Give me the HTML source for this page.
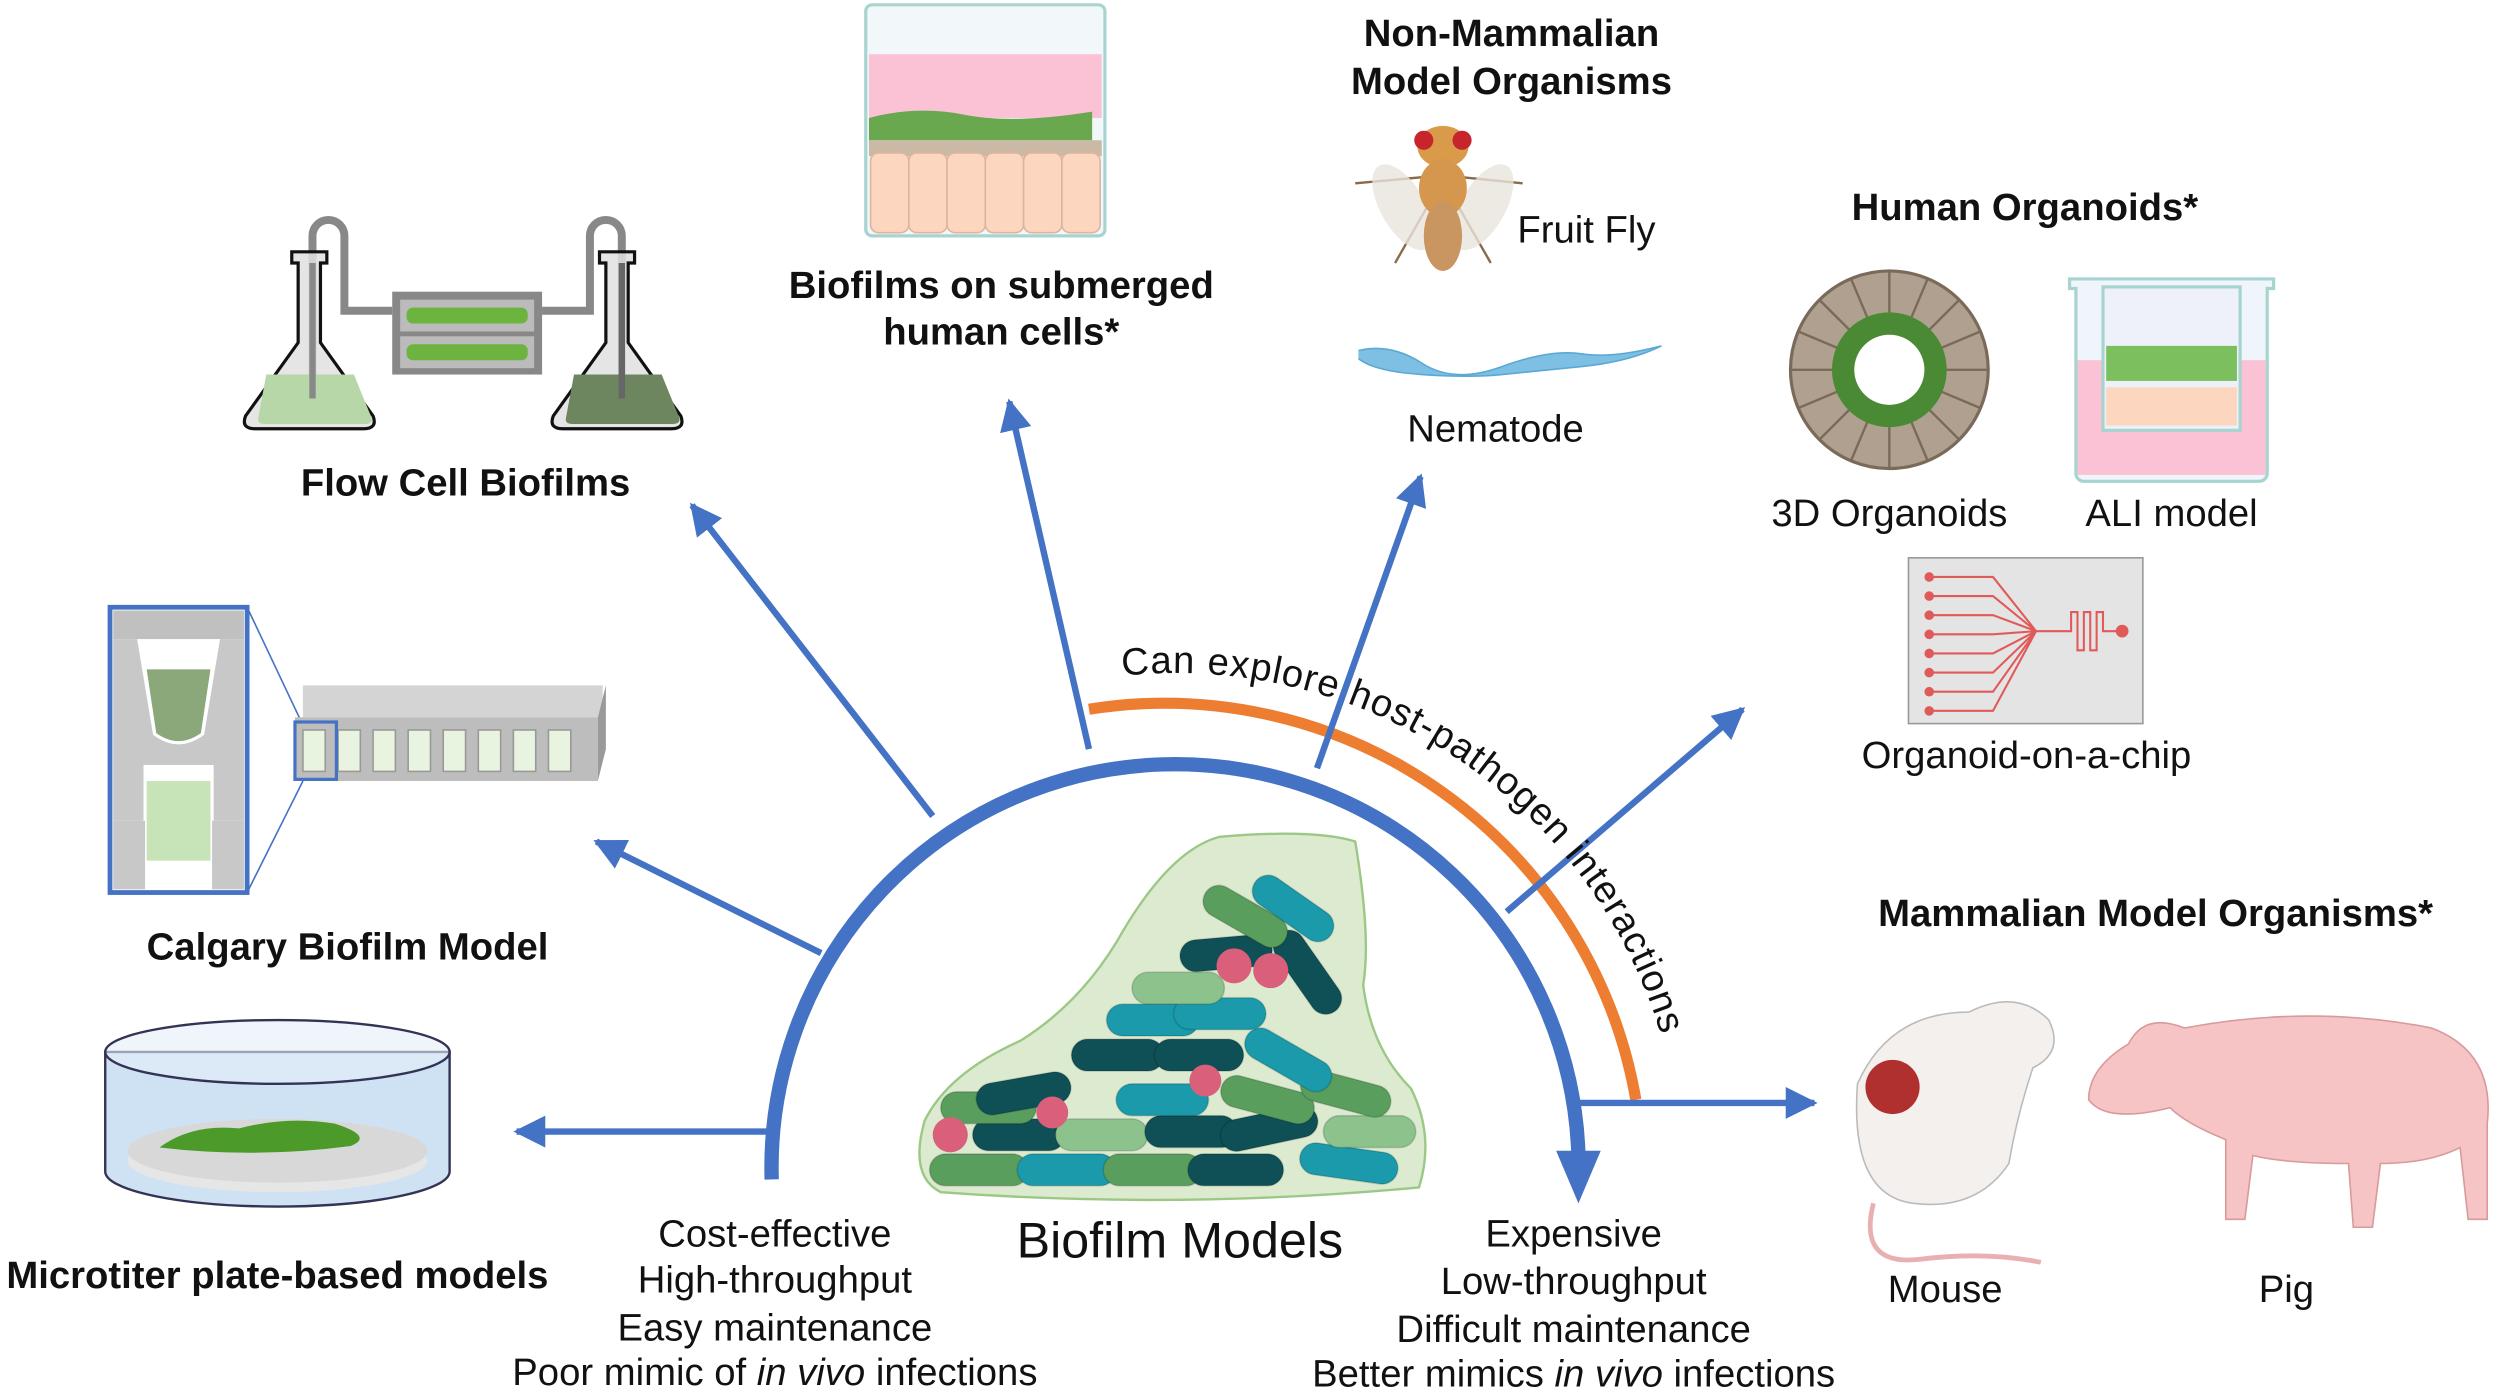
<!DOCTYPE html>
<html><head><meta charset="utf-8"><style>
html,body{margin:0;padding:0;background:#fff;overflow:hidden}
svg{display:block}
text{font-family:"Liberation Sans",Arial,sans-serif;fill:#111}
.b{font-weight:bold;font-size:24px}
.r{font-size:24px}
</style></head><body>
<svg width="2500" height="1393" viewBox="0 0 1568 874" preserveAspectRatio="none" xmlns="http://www.w3.org/2000/svg">
<defs>
<marker id="ah" viewBox="0 0 10 10" refX="9" refY="5" markerWidth="5" markerHeight="5" orient="auto"><path d="M0,0 L10,5 L0,10 Z" fill="#4472C4"/></marker>
<path id="tp" d="M 704 424 A 318 318 0 0 1 1055 740" fill="none"/>
</defs>

<!-- orange arc -->
<path d="M 683 445 A 300 300 0 0 1 1026 690" fill="none" stroke="#ED7D31" stroke-width="7"/>
<!-- connectors -->
<g stroke="#4472C4" stroke-width="4" fill="none" marker-end="url(#ah)">
<line x1="484" y1="710" x2="324" y2="710"/>
<line x1="515" y1="598" x2="374" y2="528"/>
<line x1="585" y1="512" x2="434" y2="317"/>
<line x1="683" y1="470" x2="633" y2="252"/>
<line x1="826" y1="482" x2="891" y2="299"/>
<line x1="945" y1="572" x2="1093" y2="445"/>
<line x1="990" y1="692" x2="1138" y2="692"/>
</g>
<!-- main arc -->
<path d="M 484 740 A 253 253 0 0 1 990 725" fill="none" stroke="#4472C4" stroke-width="9"/>
<path d="M 976 722 L 1004 722 L 990 755 Z" fill="#4472C4"/>
<text font-size="24" textLength="440" lengthAdjust="spacing"><textPath href="#tp" textLength="440">Can explore host-pathogen interactions</textPath></text>

<!-- Flow cell -->
<path d="M196 250 V148 a10 10 0 0 1 20 0 V195 h30 M390 250 V148 a10 10 0 0 0 -20 0 V195 h-30" fill="none" stroke="#888" stroke-width="5"/>
<g stroke="#111" stroke-width="2">
<path d="M183 158 h22 v7 h-4 v50 l33 46 q3 8 -6 8 h-68 q-9 0 -6 -8 l33 -46 v-50 h-4 z" fill="#e0e0e0" fill-opacity=".85"/>
<path d="M376 158 h22 v7 h-4 v50 l33 46 q3 8 -6 8 h-68 q-9 0 -6 -8 l33 -46 v-50 h-4 z" fill="#e0e0e0" fill-opacity=".85"/>
</g>
<path d="M167 235 h55 l11 27 q1 4 -4 4 h-63 q-5 0 -4 -4 z" fill="#b8d7a8"/>
<path d="M360 235 h55 l11 27 q1 4 -4 4 h-63 q-5 0 -4 -4 z" fill="#6e8660"/>
<line x1="196" y1="165" x2="196" y2="250" stroke="#888" stroke-width="4"/>
<line x1="390" y1="165" x2="390" y2="250" stroke="#666" stroke-width="4"/>
<rect x="246" y="183" width="94" height="52" fill="#888"/>
<rect x="251" y="188" width="84" height="20" fill="#bbb"/><rect x="251" y="211" width="84" height="20" fill="#bbb"/>
<rect x="255" y="193" width="76" height="10" rx="4" fill="#6db33f"/><rect x="255" y="216" width="76" height="10" rx="4" fill="#6db33f"/>
<text class="b" x="292" y="311" text-anchor="middle">Flow Cell Biofilms</text>

<!-- Submerged -->
<rect x="543" y="3" width="150" height="145" rx="4" fill="#f2f7fa" stroke="#a8d4d0" stroke-width="2"/>
<rect x="545" y="34" width="146" height="40" fill="#fbc2d6"/>
<path d="M545 74 q30 -8 60 -2 t80 -2 v18 h-140 z" fill="#6aa84f"/>
<rect x="545" y="88" width="146" height="10" fill="#c9b9a5"/>
<g fill="#fcd6bf" stroke="#e0b39d"><rect x="546" y="96" width="24" height="50" rx="5"/><rect x="570" y="96" width="24" height="50" rx="5"/><rect x="594" y="96" width="24" height="50" rx="5"/><rect x="618" y="96" width="24" height="50" rx="5"/><rect x="642" y="96" width="24" height="50" rx="5"/><rect x="666" y="96" width="24" height="50" rx="5"/></g>
<text class="b" x="628" y="187" text-anchor="middle">Biofilms on submerged</text>
<text class="b" x="628" y="216" text-anchor="middle">human cells*</text>

<!-- Non-mammalian -->
<text class="b" x="948" y="29" text-anchor="middle">Non-Mammalian</text>
<text class="b" x="948" y="59" text-anchor="middle">Model Organisms</text>
<g>
<path d="M905 110 l-55 5 M905 110 l50 5 M895 130 l-20 35 M915 130 l20 35" stroke="#8a6a4a" stroke-width="1.5"/>
<ellipse cx="880" cy="130" rx="30" ry="14" fill="#e8e4dc" opacity=".8" transform="rotate(60 880 130)"/>
<ellipse cx="930" cy="130" rx="30" ry="14" fill="#e8e4dc" opacity=".8" transform="rotate(-60 930 130)"/>
<ellipse cx="905" cy="92" rx="16" ry="13" fill="#d99a4a"/>
<circle cx="893" cy="88" r="6" fill="#c8242c"/><circle cx="917" cy="88" r="6" fill="#c8242c"/>
<ellipse cx="905" cy="118" rx="15" ry="18" fill="#d5964e"/>
<ellipse cx="905" cy="148" rx="12" ry="22" fill="#c99560"/>
</g>
<text class="r" x="995" y="152" text-anchor="middle">Fruit Fly</text>
<path d="M852 220 q20 -5 40 8 t50 2 t50 -8 t50 -5 q-20 10 -50 13 t-50 5 t-50 0 t-40 -10" fill="#7ec0e4" stroke="#5aa8d4"/>
<text class="r" x="938" y="277" text-anchor="middle">Nematode</text>

<!-- Human organoids -->
<text class="b" x="1270" y="138" text-anchor="middle">Human Organoids*</text>
<circle cx="1185" cy="232" r="62" fill="#b0a090" stroke="#7a6a5a" stroke-width="2"/>
<g stroke="#7a6a5a" stroke-width="1.5"><line x1="1185" y1="170" x2="1185" y2="294"/><line x1="1123" y1="232" x2="1247" y2="232"/><line x1="1141" y1="188" x2="1229" y2="276"/><line x1="1229" y1="188" x2="1141" y2="276"/><line x1="1161" y1="175" x2="1209" y2="289"/><line x1="1209" y1="175" x2="1161" y2="289"/><line x1="1128" y1="208" x2="1242" y2="256"/><line x1="1242" y1="208" x2="1128" y2="256"/></g>
<circle cx="1185" cy="232" r="36" fill="#4a8a34"/>
<circle cx="1185" cy="232" r="22" fill="#fff"/>
<path d="M1298 175 h128 v6 h-4 v116 a5 5 0 0 1 -5 5 h-110 a5 5 0 0 1 -5 -5 v-116 h-4 z" fill="#f0f4fb" stroke="#a8d4d0" stroke-width="2"/>
<rect x="1303" y="226" width="118" height="72" fill="#fbc2d6"/>
<rect x="1319" y="180" width="86" height="90" fill="#eef1fa" stroke="#a8d4d0" stroke-width="2"/>
<rect x="1321" y="217" width="82" height="22" fill="#7cbf5e"/>
<rect x="1321" y="243" width="82" height="24" fill="#fcd6bf"/>
<text class="r" x="1185" y="330" text-anchor="middle">3D Organoids</text>
<text class="r" x="1362" y="330" text-anchor="middle">ALI model</text>
<rect x="1197" y="350" width="147" height="104" fill="#e4e4e4" stroke="#999"/>
<g stroke="#e05a5a" stroke-width="1.3" fill="none">
<path d="M1210 362 h40 l27 34 M1210 374 h40 l27 22 M1210 386 h40 l27 10 M1210 398 h40 l27 -2 M1210 410 h40 l27 -14 M1210 422 h40 l27 -26 M1210 434 h40 l27 -38 M1210 446 h40 l27 -50 M1277 396 h22 v-12 h4 v24 h4 v-24 h4 v24 h4 v-24 h4 v12 h12"/>
</g>
<g fill="#e05a5a"><circle cx="1210" cy="362" r="3"/><circle cx="1210" cy="374" r="3"/><circle cx="1210" cy="386" r="3"/><circle cx="1210" cy="398" r="3"/><circle cx="1210" cy="410" r="3"/><circle cx="1210" cy="422" r="3"/><circle cx="1210" cy="434" r="3"/><circle cx="1210" cy="446" r="3"/><circle cx="1331" cy="396" r="4"/></g>
<text class="r" x="1271" y="482" text-anchor="middle">Organoid-on-a-chip</text>

<!-- Mammalian -->
<text class="b" x="1352" y="581" text-anchor="middle">Mammalian Model Organisms*</text>
<path d="M1165 680 q20 -45 70 -45 q30 -15 50 5 q10 20 -10 30 q-10 30 -15 60 q-20 30 -60 25 q-40 -5 -35 -75 z" fill="#f4f0ee" stroke="#bbb"/>
<circle cx="1187" cy="682" r="17" fill="#b03030"/>
<path d="M1175 755 q-10 40 30 35 q40 -5 75 2" fill="none" stroke="#e8b0b0" stroke-width="3"/>
<path d="M1310 690 q0 -20 25 -35 q10 -20 35 -10 q80 -15 155 0 q40 15 35 60 l0 60 h-12 l-5 -45 q-20 10 -50 10 l-5 40 h-12 l-3 -40 q-40 0 -60 -5 l-5 40 h-12 l0 -50 q-25 -10 -35 -20 q-40 10 -51 -5 z" fill="#f6c4c4" stroke="#d89a9a"/>
<text class="r" x="1220" y="817" text-anchor="middle">Mouse</text>
<text class="r" x="1434" y="817" text-anchor="middle">Pig</text>

<!-- Calgary -->
<rect x="69" y="381" width="86" height="179" fill="#fff" stroke="#4472C4" stroke-width="3"/>
<rect x="71" y="383" width="82" height="18" fill="#c0c0c0"/>
<rect x="71" y="401" width="82" height="114" fill="#c8c8c8"/>
<path d="M86 401 h52 l-10 60 q-16 12 -32 0 z" fill="#fff"/>
<path d="M92 420 h40 l-6 40 q-14 10 -28 0 z" fill="#8aa87a"/>
<rect x="90" y="480" width="44" height="60" fill="#fff"/>
<rect x="92" y="490" width="40" height="50" fill="#c6e4b8"/>
<rect x="71" y="515" width="20" height="43" fill="#c8c8c8"/><rect x="133" y="515" width="20" height="43" fill="#c8c8c8"/>
<line x1="155" y1="381" x2="190" y2="455" stroke="#4472C4"/><line x1="155" y1="560" x2="190" y2="490" stroke="#4472C4"/>
<path d="M190 430 h188 v20 h-188 z" fill="#d4d4d4"/>
<path d="M185 450 h190 v40 h-190 z" fill="#bdbdbd"/>
<path d="M375 450 l5 -20 v40 l-5 20 z" fill="#9a9a9a"/>
<g fill="#e8f4e0" stroke="#999"><rect x="190" y="458" width="14" height="26"/><rect x="212" y="458" width="14" height="26"/><rect x="234" y="458" width="14" height="26"/><rect x="256" y="458" width="14" height="26"/><rect x="278" y="458" width="14" height="26"/><rect x="300" y="458" width="14" height="26"/><rect x="322" y="458" width="14" height="26"/><rect x="344" y="458" width="14" height="26"/></g>
<rect x="185" y="453" width="26" height="36" fill="none" stroke="#4472C4" stroke-width="2"/>
<text class="b" x="218" y="602" text-anchor="middle">Calgary Biofilm Model</text>

<!-- Microtiter dish -->
<path d="M66 660 v75 a108 22 0 0 0 216 0 v-75 z" fill="#cfe2f3" stroke="#335" stroke-width="1.5"/>
<ellipse cx="174" cy="728" rx="94" ry="20" fill="#e6e6e6"/>
<ellipse cx="174" cy="722" rx="94" ry="20" fill="#d8d8d8"/>
<path d="M100 720 q20 -15 50 -12 q30 -8 60 -3 q25 8 10 14 q-60 8 -120 1 z" fill="#4c9a2a"/>
<ellipse cx="174" cy="660" rx="108" ry="20" fill="#e4eef8" fill-opacity=".6" stroke="#335" stroke-width="1.5"/>
<text class="b" x="174" y="808" text-anchor="middle">Microtiter plate-based models</text>

<!-- biofilm blob -->
<path d="M590 748 q-20 -10 -10 -45 q15 -30 60 -50 q40 -25 65 -70 q30 -50 60 -58 q60 -5 85 3 q10 60 5 90 q5 40 30 65 q15 30 5 62 q-150 14 -300 3 z" fill="#dcebd0" stroke="#9cc886" stroke-width="1.5"/>
<g stroke="rgba(0,0,0,.15)">
<rect x="583" y="724" width="62" height="20" rx="10" fill="#5a9e5e"/>
<rect x="638" y="724" width="62" height="20" rx="10" fill="#1a9aaa"/>
<rect x="692" y="724" width="62" height="20" rx="10" fill="#5a9e5e"/>
<rect x="745" y="724" width="60" height="20" rx="10" fill="#0f4f56"/>
<rect x="815" y="720" width="62" height="20" rx="10" fill="#1a9aaa" transform="rotate(8 846 730)"/>
<rect x="610" y="702" width="58" height="20" rx="10" fill="#0f4f56"/>
<rect x="662" y="702" width="58" height="20" rx="10" fill="#8cc28c"/>
<rect x="718" y="700" width="58" height="20" rx="10" fill="#0f4f56"/>
<rect x="765" y="698" width="62" height="20" rx="10" fill="#0f4f56" transform="rotate(-12 796 708)"/>
<rect x="830" y="700" width="58" height="20" rx="10" fill="#8cc28c"/>
<rect x="590" y="685" width="60" height="20" rx="10" fill="#5a9e5e"/>
<rect x="612" y="676" width="60" height="20" rx="10" fill="#0f4f56" transform="rotate(-10 642 686)"/>
<rect x="700" y="680" width="58" height="20" rx="10" fill="#1a9aaa"/>
<rect x="765" y="680" width="60" height="20" rx="10" fill="#5a9e5e" transform="rotate(15 795 690)"/>
<rect x="815" y="676" width="58" height="20" rx="10" fill="#5a9e5e" transform="rotate(15 844 686)"/>
<rect x="672" y="652" width="58" height="20" rx="10" fill="#0f4f56"/>
<rect x="724" y="652" width="56" height="20" rx="10" fill="#0f4f56"/>
<rect x="778" y="655" width="60" height="20" rx="10" fill="#1a9aaa" transform="rotate(30 808 665)"/>
<rect x="694" y="630" width="58" height="20" rx="10" fill="#1a9aaa"/>
<rect x="736" y="626" width="58" height="20" rx="10" fill="#1a9aaa"/>
<rect x="710" y="610" width="58" height="20" rx="10" fill="#8cc28c"/>
<rect x="740" y="588" width="58" height="20" rx="10" fill="#0f4f56" transform="rotate(-5 769 598)"/>
<rect x="790" y="600" width="60" height="20" rx="10" fill="#0f4f56" transform="rotate(55 820 610)"/>
<rect x="752" y="565" width="58" height="20" rx="10" fill="#5a9e5e" transform="rotate(30 781 575)"/>
<rect x="782" y="560" width="58" height="20" rx="10" fill="#1a9aaa" transform="rotate(35 811 570)"/>
</g>
<g fill="#d95f7a"><circle cx="596" cy="712" r="11"/><circle cx="660" cy="698" r="10"/><circle cx="756" cy="678" r="10"/><circle cx="774" cy="606" r="11"/><circle cx="797" cy="609" r="11"/></g>
<text x="740" y="789" text-anchor="middle" font-size="31.5">Biofilm Models</text>

<text x="486" y="782" class="r" text-anchor="middle">Cost-effective</text>
<text x="486" y="811" class="r" text-anchor="middle">High-throughput</text>
<text x="486" y="841" class="r" text-anchor="middle">Easy maintenance</text>
<text x="486" y="869" class="r" text-anchor="middle">Poor mimic of <tspan font-style="italic">in vivo</tspan> infections</text>
<text x="987" y="782" class="r" text-anchor="middle">Expensive</text>
<text x="987" y="812" class="r" text-anchor="middle">Low-throughput</text>
<text x="987" y="842" class="r" text-anchor="middle">Difficult maintenance</text>
<text x="987" y="870" class="r" text-anchor="middle">Better mimics <tspan font-style="italic">in vivo</tspan> infections</text>
</svg>
</body></html>
